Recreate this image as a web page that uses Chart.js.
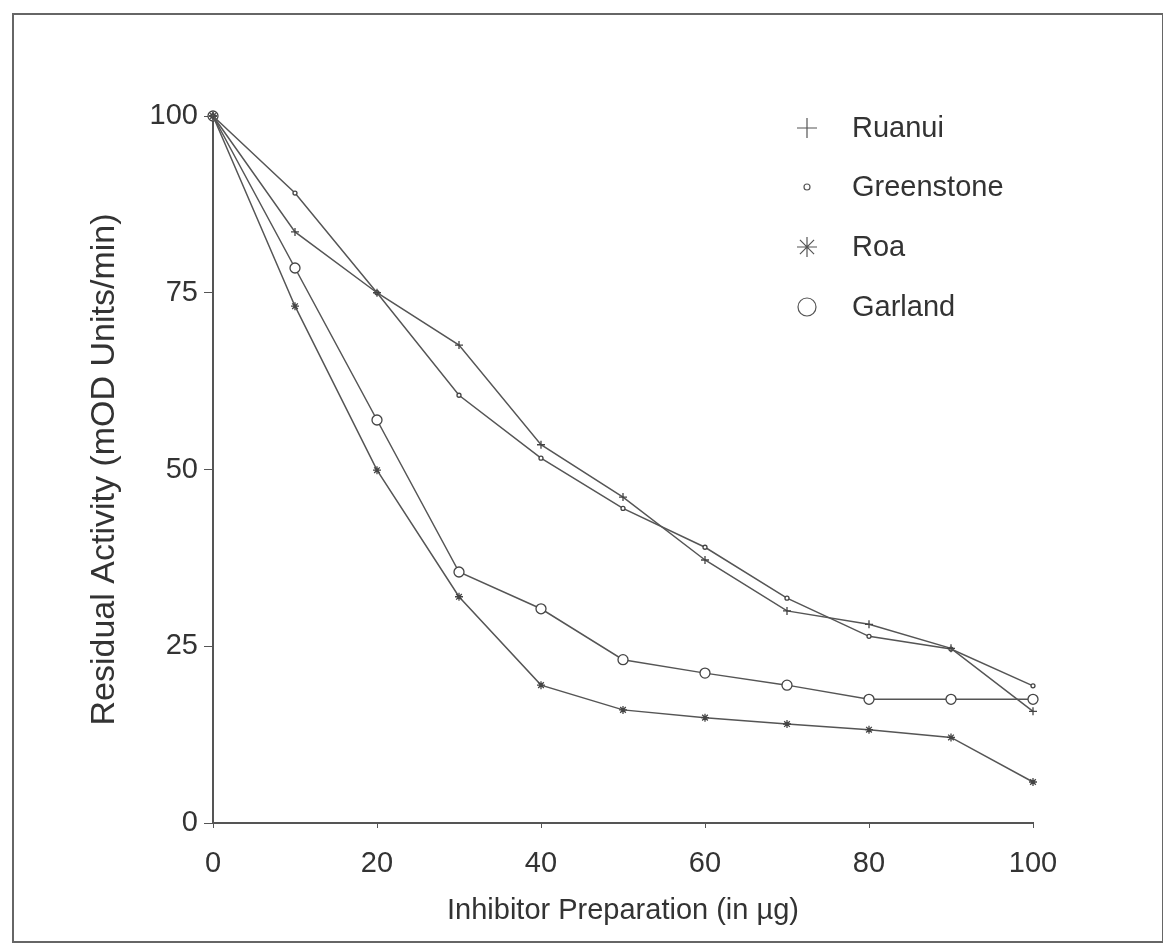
<!DOCTYPE html>
<html>
<head>
<meta charset="utf-8">
<script src="https://cdn.jsdelivr.net/npm/chart.js@4/dist/chart.umd.min.js"></script>
<style>
  html, body { margin: 0; padding: 0; background: #fff; }
  #wrap { position: relative; width: 1163px; height: 944px; }
  #frame { position: absolute; left: 12px; top: 13px; width: 1148px; height: 926px; border: 2px solid #666; pointer-events: none; }
</style>
</head>
<body>
<div id="wrap">
  <canvas id="chart" width="1163" height="944"></canvas>
  <div id="frame"></div>
</div>
<script>
const doses = [0, 10, 20, 30, 40, 50, 60, 70, 80, 90, 100];
const ruanui = [100, 83.6, 75, 67.6, 53.5, 46.1, 37.2, 30.0, 28.1, 24.7, 15.8];
const greenstone = [100, 89.1, 75, 60.5, 51.6, 44.5, 39.0, 31.8, 26.4, 24.6, 19.4];
const roa = [100, 73.1, 49.9, 32.0, 19.5, 16.0, 14.9, 14.0, 13.2, 12.1, 5.8];
const garland = [100, 78.5, 57.0, 35.5, 30.3, 23.1, 21.2, 19.5, 17.5, 17.5, 17.5];
const seriesNames = ['Ruanui', 'Greenstone', 'Roa', 'Garland'];

const font = '"Liberation Sans", Arial, Helvetica, sans-serif';
const ink = '#333';
const lineColor = '#555';

const toPoints = (values) => values.map((v, i) => ({ x: doses[i], y: v }));

const makeSet = (label, values, style, radius, legendRadius) => ({
  label,
  data: toPoints(values),
  borderColor: lineColor,
  borderWidth: 1.5,
  pointStyle: style,
  pointRadius: radius,
  pointBorderColor: '#444',
  pointBorderWidth: 1.3,
  pointBackgroundColor: '#fff',
  legendRadius,
  tension: 0,
  clip: false,
});

// legend drawn inside the plot, top right
const legendPlugin = {
  id: 'plotLegend',
  afterDraw(chart) {
    const { ctx } = chart;
    const rows = [128, 187, 247, 307];
    ctx.save();
    ctx.font = `29px ${font}`;
    ctx.textBaseline = 'middle';
    chart.data.datasets.forEach((ds, i) => {
      ctx.strokeStyle = '#555';
      ctx.fillStyle = '#fff';
      ctx.lineWidth = 1.2;
      Chart.helpers.drawPoint(ctx, {
        pointStyle: ds.pointStyle,
        radius: ds.legendRadius,
        borderWidth: 1.2,
        rotation: 0,
      }, 807, rows[i]);
      ctx.fillStyle = ink;
      ctx.fillText(ds.label, 852, rows[i] + 1);
    });
    ctx.restore();
  },
};

new Chart(document.getElementById('chart'), {
  type: 'line',
  data: {
    datasets: [
      makeSet(seriesNames[0], ruanui, 'cross', 4, 10),
      makeSet(seriesNames[1], greenstone, 'circle', 2, 3),
      makeSet(seriesNames[2], roa, 'star', 4, 10),
      makeSet(seriesNames[3], garland, 'circle', 5, 9),
    ],
  },
  options: {
    responsive: false,
    animation: false,
    devicePixelRatio: 1,
    layout: { padding: { left: 84, right: 130, top: 116, bottom: 16 } },
    plugins: { legend: { display: false }, tooltip: { enabled: false } },
    scales: {
      x: {
        type: 'linear',
        min: 0,
        max: 100,
        afterFit: (scale) => { scale.height = 105; },
        ticks: { stepSize: 20, color: ink, font: { family: font, size: 29 }, padding: 19, maxRotation: 0 },
        grid: { drawOnChartArea: false, tickLength: 5, color: '#555' },
        border: { color: '#555', width: 2 },
        title: { display: true, text: 'Inhibitor Preparation (in µg)', color: ink, font: { family: font, size: 29 }, padding: 0 },
      },
      y: {
        min: 0,
        max: 100,
        afterFit: (scale) => { scale.width = 129; },
        ticks: { stepSize: 25, color: ink, font: { family: font, size: 29 }, padding: 6 },
        grid: { drawOnChartArea: false, tickLength: 9, color: '#555' },
        border: { color: '#555', width: 2 },
        title: { display: true, text: 'Residual Activity (mOD Units/min)', color: ink, font: { family: font, size: 34 }, padding: 0 },
      },
    },
  },
  plugins: [legendPlugin],
});
</script>
</body>
</html>
